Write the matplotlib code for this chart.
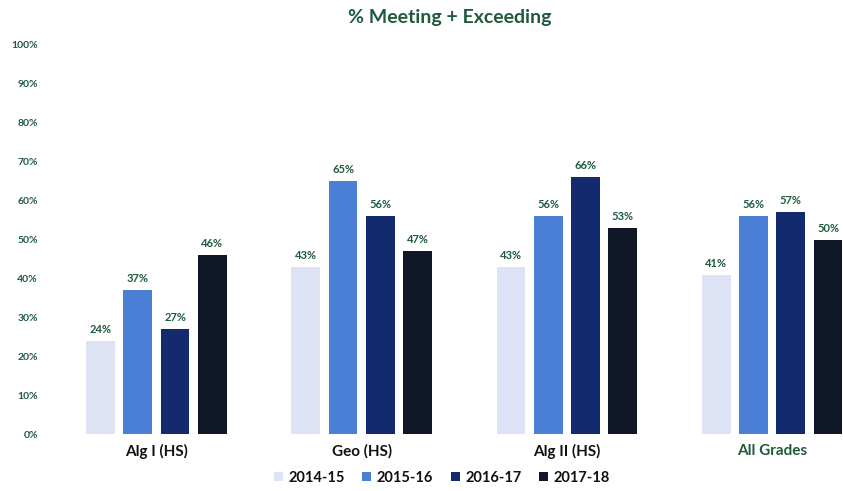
import matplotlib
matplotlib.use("Agg")
import matplotlib.pyplot as plt
import numpy as np

categories = ["Alg I (HS)", "Geo (HS)", "Alg II (HS)", "All Grades"]
series_names = ["2014-15", "2015-16", "2016-17", "2017-18"]
values = {
    "2014-15": [24, 43, 43, 41],
    "2015-16": [37, 65, 56, 56],
    "2016-17": [27, 56, 66, 57],
    "2017-18": [46, 47, 53, 50],
}
colors = ["#dde2f4", "#4b7fd6", "#142a6e", "#101828"]
yticks = [0, 10, 20, 30, 40, 50, 60, 70, 80, 90, 100]
green = "#1f5a3c"

plt.rcParams['font.family'] = ['Lato', 'DejaVu Sans']

W, H = 843, 491
fig = plt.figure(figsize=(W / 100, H / 100), dpi=100)
ax = fig.add_axes([60 / W, (H - 434) / H, 1 - 60 / W, (434 - 45) / H])

x = np.arange(len(categories))
pitch = 0.1816
bw = 0.14
for i, name in enumerate(series_names):
    pos = x + (i - 1.5) * pitch
    bars = ax.bar(pos, values[name], width=bw, color=colors[i], label=name, zorder=2)
    for b, v in zip(bars, values[name]):
        ax.text(b.get_x() + b.get_width() / 2, v + 1.5, f"{v}%", ha="center", va="bottom",
                fontsize=8, fontweight="bold", color=green)

ax.set_xlim(-0.47, 3.345)
ax.set_ylim(0, 100)
ax.set_yticks(yticks)
ax.set_yticklabels([f"{t}%" for t in yticks], fontsize=7.5, fontweight="bold", color=green)
ax.set_xticks(x)
ax.set_xticklabels(categories, fontsize=11, fontweight="bold")
for lbl in ax.get_xticklabels():
    lbl.set_color(green if lbl.get_text() == "All Grades" else "#111111")
ax.tick_params(axis="both", length=0)
ax.tick_params(axis="y", pad=16)
ax.tick_params(axis="x", pad=7)
for s in ax.spines.values():
    s.set_visible(False)

fig.text(450 / W, 1 - 18 / H, "% Meeting + Exceeding", ha="center", va="center",
         fontsize=14, fontweight="bold", color=green)

leg = fig.legend(loc="center", bbox_to_anchor=(442 / W, 1 - 478 / H), ncol=4, frameon=False,
                 handlelength=0.6, handleheight=0.6, handletextpad=0.4, columnspacing=1.2,
                 prop={"size": 10.5, "weight": "bold"})
for t in leg.get_texts():
    t.set_color("#111111")

fig.savefig("out.png", dpi=100)
